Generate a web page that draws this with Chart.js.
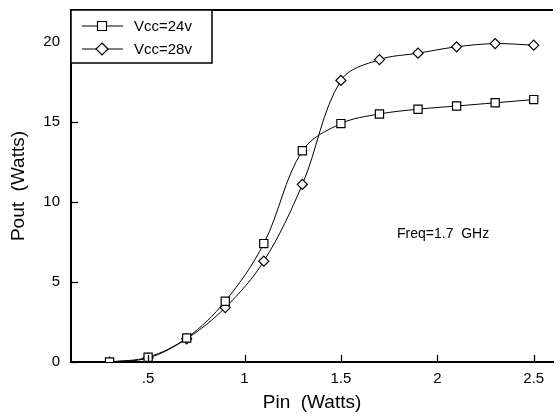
<!DOCTYPE html>
<html>
<head>
<meta charset="utf-8">
<script src="https://cdn.jsdelivr.net/npm/chart.js@4.4.1/dist/chart.umd.min.js"></script>
<style>
html,body{margin:0;padding:0;background:#fff;}
#wrap{width:560px;height:419px;position:relative;}
</style>
</head>
<body>
<div id="wrap"><canvas id="c" width="560" height="419"></canvas></div>
<script>
const pin = [0.3, 0.5, 0.7, 0.9, 1.1, 1.3, 1.5, 1.7, 1.9, 2.1, 2.3, 2.5];
const pout24 = [0.0, 0.3, 1.5, 3.8, 7.4, 13.2, 14.9, 15.5, 15.8, 16.0, 16.2, 16.4];
const pout28 = [0.0, 0.25, 1.45, 3.4, 6.3, 11.1, 17.6, 18.9, 19.3, 19.7, 19.9, 19.8];
const seriesLabels = ['Vcc=24v', 'Vcc=28v'];
const xTicks = [0.5, 1, 1.5, 2, 2.5];
const xTickLabels = ['.5', '1', '1.5', '2', '2.5'];
const yTicks = [0, 5, 10, 15, 20];
const annotationText = 'Freq=1.7  GHz';

const FONT = '"Liberation Sans", Arial, sans-serif';

function pts(ys){ return pin.map((x,i)=>({x:x, y:ys[i]})); }

const framePlugin = {
  id: 'frame',
  afterDraw(chart){
    const ctx = chart.ctx, a = chart.chartArea;
    const xs = chart.scales.x, ys = chart.scales.y;
    ctx.save();
    ctx.strokeStyle = '#000';
    ctx.lineWidth = 2;
    ctx.beginPath(); ctx.moveTo(a.left, a.top); ctx.lineTo(a.right, a.top); ctx.stroke();
    ctx.lineWidth = 1.3;
    xTicks.forEach(v=>{
      const px = Math.round(xs.getPixelForValue(v)) + 0.5;
      ctx.beginPath(); ctx.moveTo(px, a.bottom); ctx.lineTo(px, a.bottom - 7); ctx.stroke();
    });
    yTicks.forEach(v=>{
      const py = Math.round(ys.getPixelForValue(v)) + 0.5;
      ctx.beginPath(); ctx.moveTo(a.left, py); ctx.lineTo(a.left + 7, py); ctx.stroke();
    });
    const lx = a.left, ly = a.top, lw = 141, lh = 53;
    ctx.fillStyle = '#fff';
    ctx.fillRect(lx, ly, lw, lh);
    ctx.lineWidth = 1.5;
    ctx.strokeRect(lx, ly, lw, lh);
    const rows = [ly + 16, ly + 39];
    const styles = ['rect', 'rectRot'];
    rows.forEach((ry, i)=>{
      ctx.lineWidth = 1;
      ctx.beginPath(); ctx.moveTo(lx + 11, ry); ctx.lineTo(lx + 52, ry); ctx.stroke();
      ctx.fillStyle = '#fff';
      ctx.lineWidth = 1.2;
      ctx.beginPath();
      const cx = lx + 31;
      if (styles[i] === 'rect') {
        ctx.rect(cx - 4.5, ry - 4.5, 9, 9);
      } else {
        ctx.moveTo(cx, ry - 6); ctx.lineTo(cx + 6, ry); ctx.lineTo(cx, ry + 6); ctx.lineTo(cx - 6, ry); ctx.closePath();
      }
      ctx.fill(); ctx.stroke();
      ctx.fillStyle = '#000';
      ctx.font = '15px ' + FONT;
      ctx.textAlign = 'left'; ctx.textBaseline = 'middle';
      ctx.fillText(seriesLabels[i], lx + 63, ry + 1);
    });
    ctx.fillStyle = '#000';
    ctx.font = '14px ' + FONT;
    ctx.textAlign = 'left'; ctx.textBaseline = 'middle';
    ctx.fillText(annotationText, 397, 234);
    ctx.restore();
  }
};

const common = {
  borderColor: '#000', borderWidth: 1, backgroundColor: '#fff',
  pointBorderColor: '#000', pointBackgroundColor: '#fff', pointBorderWidth: 1.2,
  showLine: true, tension: 0.35, fill: false
};

new Chart(document.getElementById('c'), {
  type: 'scatter',
  data: {
    datasets: [
      Object.assign({}, common, {label: seriesLabels[0], data: pts(pout24), pointStyle: 'rect', pointRadius: 5.8}),
      Object.assign({}, common, {label: seriesLabels[1], data: pts(pout28), pointStyle: 'rectRot', pointRadius: 5})
    ]
  },
  options: {
    responsive: false, animation: false,
    layout: {padding: {left: 0, right: 0, top: 10, bottom: 0}},
    plugins: {legend: {display: false}, tooltip: {enabled: false}},
    scales: {
      x: {
        type: 'linear', min: 0.1, max: 2.6,
        afterBuildTicks: s => { s.ticks = xTicks.map(v=>({value: v})); },
        afterFit: s => { s.height = 57; s.paddingLeft = 0; s.paddingRight = 0; },
        grid: {display: false, drawTicks: false},
        border: {display: true, color: '#000', width: 2},
        ticks: {color: '#000', padding: 8, font: {family: FONT, size: 15},
          callback: (v) => { const i = xTicks.indexOf(v); return i >= 0 ? xTickLabels[i] : ''; },
          maxRotation: 0, autoSkip: false},
        title: {display: true, text: 'Pin  (Watts)', color: '#000', font: {family: FONT, size: 19}, padding: {top: 0, bottom: 5}}
      },
      y: {
        type: 'linear', min: 0, max: 22,
        afterBuildTicks: s => { s.ticks = yTicks.map(v=>({value: v})); },
        afterFit: s => { s.width = 71; s.paddingTop = 0; s.paddingBottom = 0; },
        grid: {display: false, drawTicks: false},
        border: {display: true, color: '#000', width: 2},
        ticks: {color: '#000', padding: 11, font: {family: FONT, size: 15}, autoSkip: false},
        title: {display: true, text: 'Pout  (Watts)', color: '#000', font: {family: FONT, size: 19}, padding: {top: 7, bottom: 0}}
      }
    }
  },
  plugins: [framePlugin]
});
</script>
</body>
</html>
